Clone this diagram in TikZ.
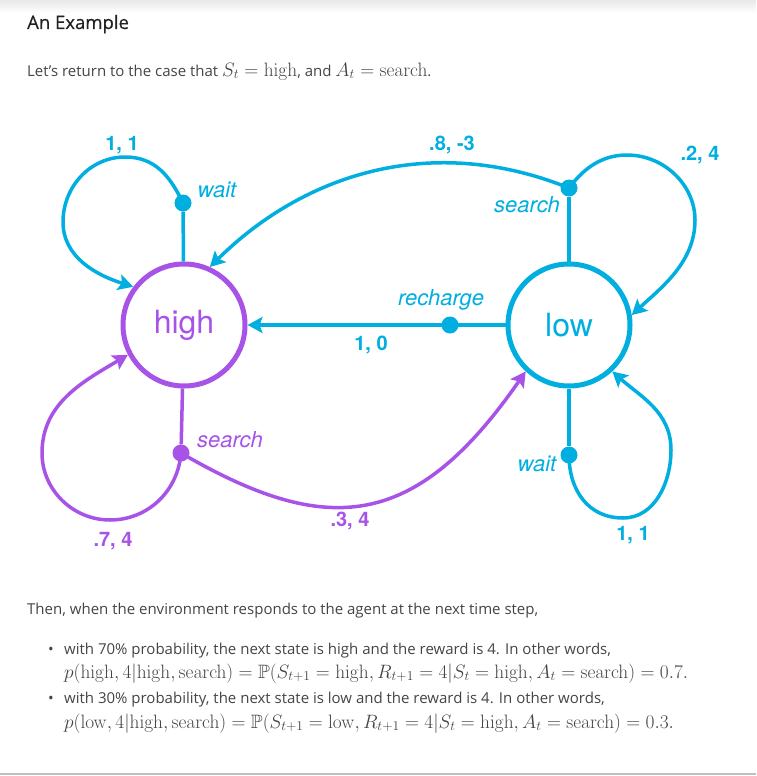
\RequirePackage{fix-cm}
\documentclass[tikz,border=0pt]{standalone}
\usepackage[no-math]{fontspec}
\usepackage{amssymb}
\setmainfont{Open Sans}
\newfontfamily\heros{TeX Gyre Heros}
\newfontfamily\semibold[FakeBold=0.5]{Open Sans}
\usetikzlibrary{shapes, arrows.meta}
\definecolor{hicol}{RGB}{167,83,232}
\definecolor{locol}{RGB}{0,174,224}
\definecolor{txtcol}{RGB}{68,68,68}
\definecolor{headcol}{RGB}{34,34,34}
\newcommand{\bigmath}[1]{{\fontsize{19.35}{20}\selectfont$#1$}}
\tikzstyle{state} = [draw, circle, line width=5pt, minimum size=122pt, inner sep=0pt, font=\heros\fontsize{32}{32}\selectfont]
\tikzstyle{act} = [circle, fill, minimum size=17pt, inner sep=0pt]
\tikzstyle{wire} = [line width=3.5pt]
\tikzstyle{flow} = [wire, -{Stealth[length=15pt,width=16pt,inset=3pt]}]
\tikzstyle{prob} = [inner sep=0pt, font=\heros\bfseries\fontsize{20}{20}\selectfont]
\tikzstyle{aname} = [inner sep=0pt, font=\heros\itshape\fontsize{22}{22}\selectfont]
\tikzstyle{para} = [anchor=base west, inner sep=0pt, text=txtcol, font=\fontsize{15}{18}\selectfont]

\begin{document}
\begin{tikzpicture}[x=1pt, y=-1pt]
    \useasboundingbox (0,0) rectangle (756,776);
    \shade[top color=black!9, bottom color=white] (0,0) rectangle (756,13);
    \draw[black!25, line width=2pt] (0,774) -- (756,774);

    % text above
    \node[para, text=headcol, font=\semibold\fontsize{18.5}{22}\selectfont] (title) at (27,29) {An Example};
    \node[para] (intro) at (27,76) {Let's return to the case that \bigmath{S_t=\mathrm{high}}, and \bigmath{A_t=\mathrm{search}}.};

    % states and actions
    \node[state, hicol] (high) at (184,325) {high};
    \node[state, locol] (low) at (569,325) {low};
    \node[act, locol] (hwait) at (183,203) {};
    \node[act, hicol] (hsearch) at (181,453) {};
    \node[act, locol] (lsearch) at (569,188) {};
    \node[act, locol] (lwait) at (569,455) {};
    \node[act, locol] (recharge) at (450,325) {};

    \draw[wire, locol] (high) -- (hwait);
    \draw[wire, hicol] (high) -- (hsearch);
    \draw[wire, locol] (low) -- (lsearch);
    \draw[wire, locol] (low) -- (lwait);
    \draw[wire, locol] (low) -- (recharge.center);
    \draw[flow, locol] (recharge.center) -- (high);

    % loops
    \draw[flow, locol] (hwait.center) .. controls (170,176) and (155,157) .. (125,157)
        .. controls (90,157) and (63,187) .. (63,222)
        .. controls (63,257) and (96,275) .. (high.143);
    \draw[flow, locol] (lsearch.center) .. controls (584,168) and (602,155) .. (627,155)
        .. controls (664,155) and (695,185) .. (695,220)
        .. controls (695,262) and (662,287) .. (low.9);
    \draw[flow, hicol] (hsearch.center) .. controls (178,491) and (148,520) .. (110,520)
        .. controls (73,520) and (42,490) .. (42,453)
        .. controls (42,403) and (84,381) .. (high.208);
    \draw[flow, locol] (lwait.center) .. controls (569,490) and (588,518) .. (623,518)
        .. controls (655,518) and (671,482) .. (671,450)
        .. controls (671,412) and (641,397) .. (low.313);
    \draw[flow, locol] (lsearch.center) .. controls (430,132) and (303,175) .. (high.66);
    \draw[flow, hicol] (hsearch.center) .. controls (327,538) and (415,531) .. (low.227);

    % labels
    \node[prob, locol] (p11a) at (122,145) {1, 1};
    \node[aname, locol] (lbwaita) at (217,190) {wait};
    \node[prob, locol] (p83) at (452,145) {.8, -3};
    \node[prob, locol] (p24) at (700,155) {.2, 4};
    \node[aname, locol] (lbsearchb) at (527,205) {search};
    \node[aname, locol] (lbrecharge) at (441,300) {recharge};
    \node[prob, locol] (p10) at (371,345) {1, 0};
    \node[aname, hicol] (lbsearcha) at (230,440) {search};
    \node[prob, hicol] (p74) at (113,541) {.7, 4};
    \node[prob, hicol] (p34) at (350,521) {.3, 4};
    \node[aname, locol] (lbwaitb) at (537,464) {wait};
    \node[prob, locol] (p11b) at (633,535) {1, 1};

    % text below
    \node[para] (then) at (27,614) {Then, when the environment responds to the agent at the next time step,};
    \node[para] (dota) at (48,654) {•};
    \node[para] (itema) at (64,654) {with 70\% probability, the next state is high and the reward is 4. In other words,};
    \node[para] (eqa) at (64,678) {\bigmath{p(\mathrm{high},4|\mathrm{high},\mathrm{search})=\mathbb{P}(S_{t+1}=\mathrm{high},R_{t+1}=4|S_t=\mathrm{high},A_t=\mathrm{search})=0.7.}};
    \node[para] (dotb) at (48,703) {•};
    \node[para] (itemb) at (64,703) {with 30\% probability, the next state is low and the reward is 4. In other words,};
    \node[para] (eqb) at (64,728) {\bigmath{p(\mathrm{low},4|\mathrm{high},\mathrm{search})=\mathbb{P}(S_{t+1}=\mathrm{low},R_{t+1}=4|S_t=\mathrm{high},A_t=\mathrm{search})=0.3.}};
\end{tikzpicture}
\end{document}
